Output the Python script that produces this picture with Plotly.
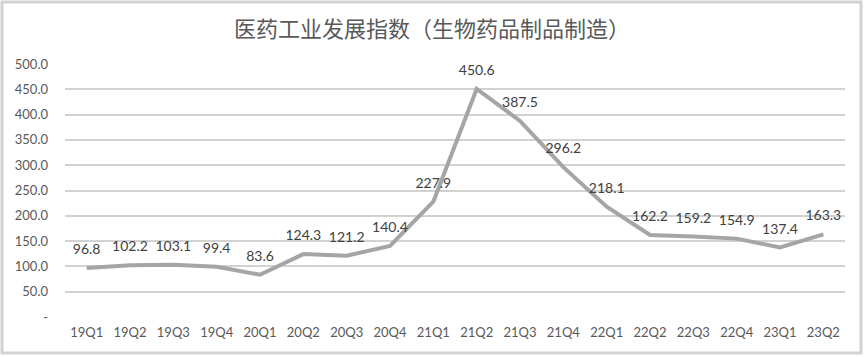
import plotly.graph_objects as go

quarters = ["19Q1", "19Q2", "19Q3", "19Q4", "20Q1", "20Q2", "20Q3", "20Q4", "21Q1",
            "21Q2", "21Q3", "21Q4", "22Q1", "22Q2", "22Q3", "22Q4", "23Q1", "23Q2"]
index_values = [96.8, 102.2, 103.1, 99.4, 83.6, 124.3, 121.2, 140.4, 227.9,
                450.6, 387.5, 296.2, 218.1, 162.2, 159.2, 154.9, 137.4, 163.3]
tick_vals = [0, 50, 100, 150, 200, 250, 300, 350, 400, 450, 500]
tick_text = ["-", "50.0", "100.0", "150.0", "200.0", "250.0", "300.0", "350.0", "400.0", "450.0", "500.0"]
title_text = "医药工业发展指数（生物药品制品制造）"

latin = "Lato, 'Noto Sans CJK SC', sans-serif"

fig = go.Figure()
fig.add_trace(go.Scatter(
    x=quarters, y=index_values,
    mode="lines+markers+text",
    line=dict(color="#a5a5a5", width=4),
    marker=dict(size=15, color="rgba(0,0,0,0)"),
    text=[f"{v:.1f}" for v in index_values],
    textposition="top center",
    textfont=dict(family=latin, size=14, color="#404040"),
    cliponaxis=False,
    hoverinfo="skip",
))

fig.update_layout(
    width=864, height=357,
    margin=dict(l=65, r=19, t=64, b=40),
    paper_bgcolor="white", plot_bgcolor="white",
    showlegend=False,
    title=dict(text=title_text, x=0.5, xanchor="center", y=1 - 29/357, yanchor="middle",
               font=dict(family="'Noto Sans CJK SC', sans-serif", size=22, color="#595959")),
    xaxis=dict(type="category", range=[-0.5, 17.5], showgrid=False, showline=False,
               zeroline=False, ticks="", ticklabelstandoff=6,
               tickfont=dict(family=latin, size=13, color="#595959")),
    yaxis=dict(range=[0, 500], tickvals=tick_vals, ticktext=tick_text,
               showgrid=True, gridcolor="#d2d2d2", gridwidth=2, zeroline=False,
               showline=False, ticks="", ticklabelstandoff=16,
               tickfont=dict(family=latin, size=13, color="#595959")),
    shapes=[dict(type="rect", xref="paper", yref="paper",
                 x0=-63/780, x1=1 + 16/780,
                 y0=-36/253, y1=1 + 62/253,
                 line=dict(color="#d2d2d2", width=3), layer="above")],
)

fig.write_html("out.html",
               config={"displayModeBar": False},
               post_script="document.body.style.margin='0';document.body.style.padding='0';")
